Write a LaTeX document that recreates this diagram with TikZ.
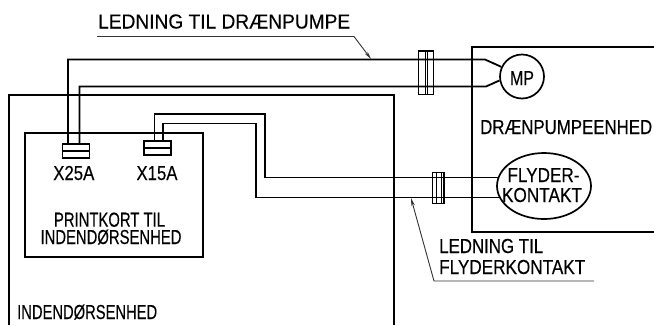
\documentclass[tikz,border=0pt]{standalone}
\usepackage{graphicx}
\usepackage{fontspec}
\setmainfont{Liberation Sans}[FakeBold=0.3]
\usetikzlibrary{arrows.meta,shapes.geometric,backgrounds}
\newcommand{\fitw}[2]{\resizebox{#1pt}{14.5pt}{\rule{0pt}{10pt}#2}}
\tikzset{
  wire/.style={line width=1.8pt,black},
  box/.style={line width=2pt,black},
  clampbox/.style={line width=1.3pt,black},
  leader/.style={line width=0.9pt,black!80},
  lbl/.style={font=\fontsize{14}{16}\selectfont,inner sep=0pt,text=black},
  conn/.style={draw,line width=1.8pt,black,inner sep=0pt,minimum width=27pt,minimum height=14pt},
}
\begin{document}
\begin{tikzpicture}[x=1pt,y=-1pt]
\useasboundingbox (0,0) rectangle (654,325);
% enclosures
\draw[box] (9,325) -- (9,95) -- (394,95) -- (394,325);
\draw[box] (654,46.5) -- (472,46.5) -- (472,232) -- (654,232);
\draw[box,line width=1.7pt] (25,133) rectangle (203,257);
% components
\node[conn] (x25) at (76,151) {};
\node[conn] (x15) at (157.5,148) {};
\draw[wire] (x25.west) -- (x25.east);
\draw[wire] (x15.west) -- (x15.east);
\node[draw,circle,line width=1.7pt,black,minimum size=44pt,inner sep=0pt,fill=white] (mp) at (522,76.5) {};
\node[draw,ellipse,line width=1.7pt,black,minimum width=94pt,minimum height=66pt,inner sep=0pt,fill=white] (fk) at (544,186) {};
% way points
\coordinate (a1) at (68,59.5);
\coordinate (a2) at (485,59.5);
\coordinate (b1) at (79.5,86.5);
\coordinate (b2) at (486,86.5);
\coordinate (c1) at (154.5,114);
\coordinate (c2) at (265,114);
\coordinate (c3) at (265,177.5);
\coordinate (d1) at (163,123.5);
\coordinate (d2) at (256,123.5);
\coordinate (d3) at (256,197.5);
% wires
\draw[wire] (a1 |- x25.north) -- (a1) -- (a2) -- (mp.155);
\draw[wire] (b1 |- x25.north) -- (b1) -- (b2) -- (mp.190);
\begin{scope}[on background layer]
\draw[wire] (c1 |- x15.north) -- (c1) -- (c2) -- (c3) -- (c3 -| fk.center);
\draw[wire] (d1 |- x15.north) -- (d1) -- (d2) -- (d3) -- (d3 -| fk.center);
\end{scope}
% clamps
\draw[clampbox] (418.5,51) rectangle (433.5,94.5);
\draw[clampbox,line width=1pt] (425,51) -- (425,94.5) (427,51) -- (427,94.5);
\draw[clampbox] (432.5,172.5) rectangle (444,203.5);
\draw[clampbox,line width=1pt] (436,172.5) -- (436,203.5) (441.5,172.5) -- (441.5,203.5);
% leaders
\coordinate (l1) at (97,36.5);
\coordinate (l2) at (354,36.5);
\coordinate (l3) at (371,59);
\coordinate (m1) at (594,281);
\coordinate (m2) at (434,281);
\coordinate (m3) at (411,198);
\draw[leader,-{Stealth[length=8pt,width=3.5pt]}] (l1) -- (l2) -- (l3);
\draw[leader,-{Stealth[length=8pt,width=3.5pt]}] (m1) -- (m2) -- (m3);
% text
\node[lbl,anchor=base west] (t1) at (98,28.5) {\fitw{252}{LEDNING TIL DRÆNPUMPE}};
\node[lbl,anchor=base] (t2) at (522,85) {\fitw{24}{MP}};
\node[lbl,anchor=base west] (t3) at (480,134) {\fitw{172}{DRÆNPUMPEENHED}};
\node[lbl,anchor=base] (t4) at (543.5,182) {\fitw{72}{FLYDER-}};
\node[lbl,anchor=base] (t5) at (542,202) {\fitw{80}{KONTAKT}};
\node[lbl,anchor=base west] (t6) at (439,253) {\fitw{104}{LEDNING TIL}};
\node[lbl,anchor=base west] (t7) at (439,274) {\fitw{146}{FLYDERKONTAKT}};
\node[lbl,anchor=base] (t8) at (73.8,180) {\fitw{41}{X25A}};
\node[lbl,anchor=base] (t9) at (157,180) {\fitw{41}{X15A}};
\node[lbl,anchor=base] (t10) at (109.5,226.7) {\fitw{111}{PRINTKORT TIL}};
\node[lbl,anchor=base] (t11) at (111,244) {\fitw{141}{INDENDØRSENHED}};
\node[lbl,anchor=base west] (t12) at (17,319) {\fitw{140}{INDENDØRSENHED}};
\end{tikzpicture}
\end{document}
